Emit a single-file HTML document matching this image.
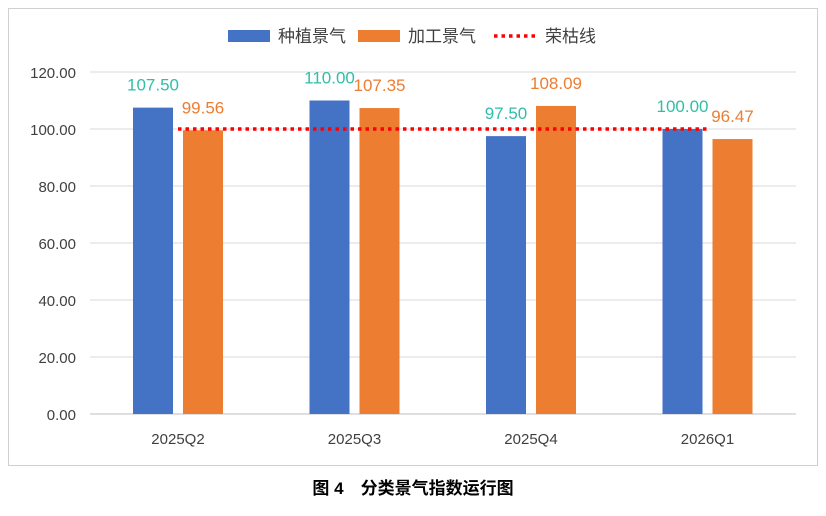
<!DOCTYPE html>
<html><head><meta charset="utf-8"><style>
body{margin:0;background:#fff;width:826px;height:511px;overflow:hidden;font-family:"Liberation Sans","Noto Sans CJK SC",sans-serif}
</style></head><body>
<svg width="826" height="511" id="svg" xmlns="http://www.w3.org/2000/svg">
<rect x="8.5" y="8.5" width="809" height="457" fill="#fff" stroke="#d0d0d0"/>
<g font-size="17" fill="#404040">
<rect x="228" y="30" width="42" height="12" fill="#4472c4"/>
<text x="278" y="42">种植景气</text>
<rect x="358" y="30" width="42" height="12" fill="#ed7d31"/>
<text x="408" y="42">加工景气</text>
<line x1="494" y1="36" x2="536" y2="36" stroke="#ff0000" stroke-width="3.5" stroke-dasharray="3.5,4"/>
<text x="545" y="42">荣枯线</text>
</g>
<g id="plot"></g>
<text x="413" y="494" text-anchor="middle" font-size="17" font-weight="bold" fill="#000">图 4　分类景气指数运行图</text>
</svg>
<script>
const categories=["2025Q2","2025Q3","2025Q4","2026Q1"];
const planting=[107.50,110.00,97.50,100.00];
const processing=[99.56,107.35,108.09,96.47];
const boomBust=[100,100,100,100];
const yTicks=[0,20,40,60,80,100,120];
const NS="http://www.w3.org/2000/svg";
const g=document.getElementById('plot');
const y=v=>414-v*(342/120);
const x=i=>178+i*176.5;
function mk(t,a,p){const e=document.createElementNS(NS,t);for(const k in a)e.setAttribute(k,a[k]);(p||g).appendChild(e);return e;}
yTicks.forEach(v=>{
 const l=mk('line',{x1:90,x2:796,y1:y(v),y2:y(v),stroke:v===0?'#bfbfbf':'#d9d9d9','stroke-width':1});
 
 
 const t=mk('text',{x:76,y:y(v)+6,'text-anchor':'end','font-size':15,fill:'#404040'});t.textContent=v.toFixed(2);
 
 
});
categories.forEach((c,i)=>{
 const b1=mk('rect',{x:x(i)-45,y:y(planting[i]),width:40,height:y(0)-y(planting[i]),fill:'#4472c4'});
 
 
 const b2=mk('rect',{x:x(i)+5,y:y(processing[i]),width:40,height:y(0)-y(processing[i]),fill:'#ed7d31'});
 
 
 const t1=mk('text',{x:x(i)-25,y:y(planting[i])-17,'text-anchor':'middle','font-size':17,fill:'#2fbfa8'});t1.textContent=planting[i].toFixed(2);
 
 
 const t2=mk('text',{x:x(i)+25,y:y(processing[i])-17,'text-anchor':'middle','font-size':17,fill:'#ed7d31'});t2.textContent=processing[i].toFixed(2);
 
 
 const xl=mk('text',{x:x(i),y:444,'text-anchor':'middle','font-size':15,fill:'#404040'});xl.textContent=c;
 
 
});
const pts=boomBust.map((v,i)=>x(i)+','+y(v)).join(' ');
const pl=mk('polyline',{points:pts,fill:'none',stroke:'#ff0000','stroke-width':3.5,'stroke-dasharray':'3.5,4'});


</script>
</body></html>
